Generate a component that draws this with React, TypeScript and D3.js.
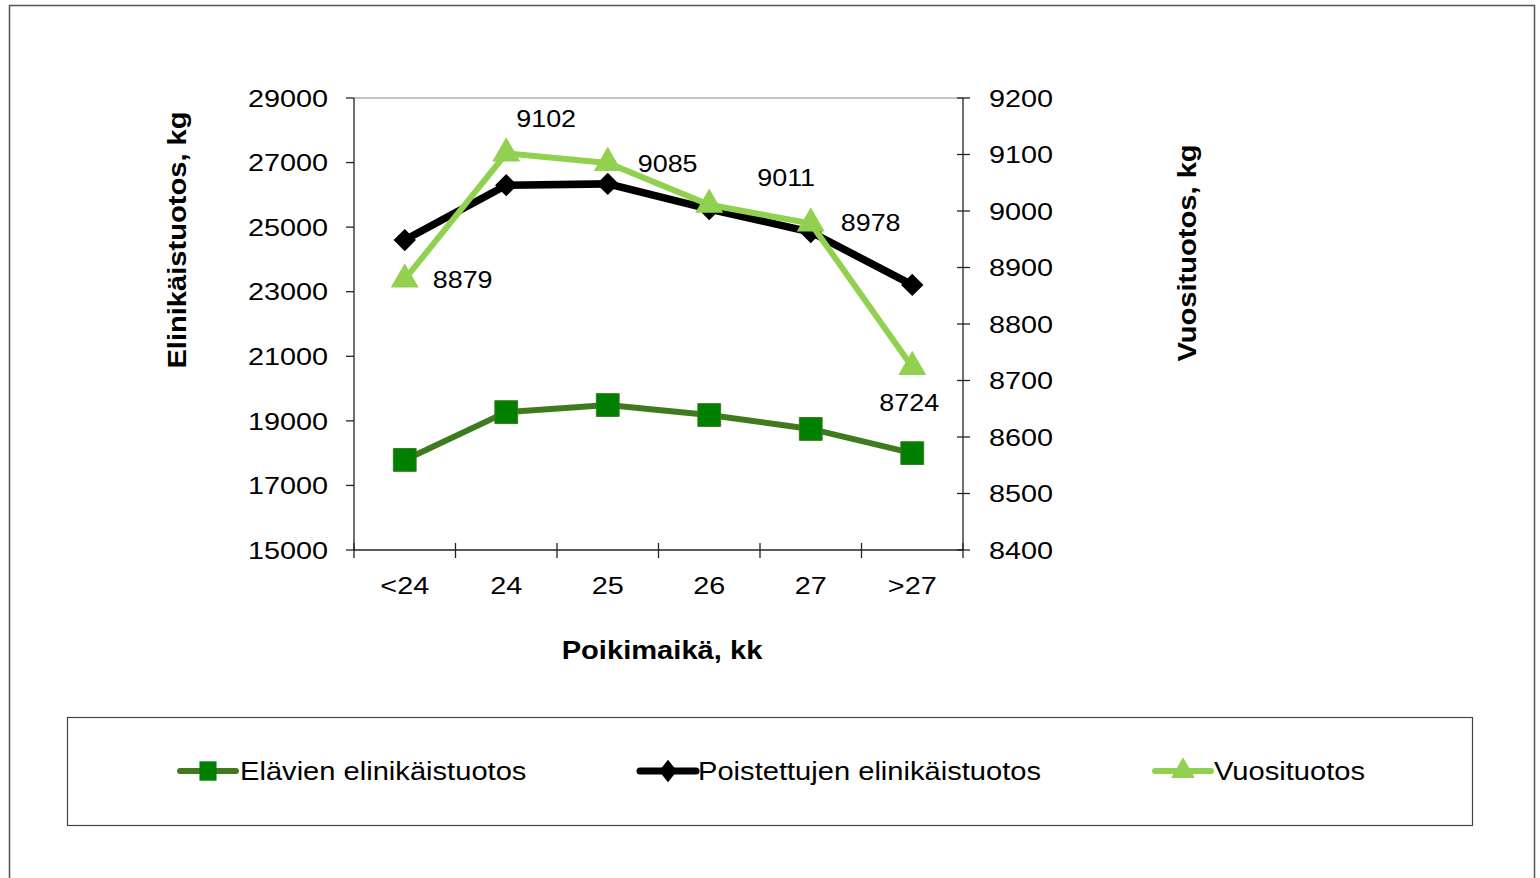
import * as d3 from 'd3';

// chart data
const categories = ['<24', '24', '25', '26', '27', '>27'];
const elavien = [17790, 19270, 19490, 19180, 18750, 18000];
const poistettujen = [24600, 26300, 26340, 25560, 24850, 23210];
const vuosituotos = [8879, 9102, 9085, 9011, 8978, 8724];
const leftTicks = [15000, 17000, 19000, 21000, 23000, 25000, 27000, 29000];
const rightTicks = [8400, 8500, 8600, 8700, 8800, 8900, 9000, 9100, 9200];

const FONT = '"Liberation Sans", Arial, sans-serif';

// text stretched horizontally like the original export
function T({ x, y, sx = 1.12, rot = 0, anchor = 'start', size = 24, bold = false, children }:
    { x: number; y: number; sx?: number; rot?: number; anchor?: string; size?: number; bold?: boolean; children: any }) {
    return (
        <text transform={`translate(${x},${y}) rotate(${rot}) scale(${sx},1)`} dy="0.36em" textAnchor={anchor}
            fontSize={size} fontWeight={bold ? 'bold' : 'normal'}>{children}</text>
    );
}

export default function App() {
    const width = 1540;
    const height = 878;
    const plot = { left: 354, right: 963, top: 98, bottom: 550 };

    const x = d3.scaleBand().domain(categories).range([plot.left, plot.right]);
    const cx = (c: string) => (x(c) ?? 0) + x.bandwidth() / 2;
    const yL = d3.scaleLinear().domain([15000, 29000]).range([plot.bottom, plot.top]);
    const yR = d3.scaleLinear().domain([8400, 9200]).range([plot.bottom, plot.top]);

    const lineL = d3.line<number>().x((_, i) => cx(categories[i])).y((d) => yL(d));
    const lineR = d3.line<number>().x((_, i) => cx(categories[i])).y((d) => yR(d));

    const square = d3.symbol(d3.symbolSquare, 520)();
    const diamond = d3.symbol(d3.symbolSquare, 250)();
    const triangle = d3.symbol(d3.symbolTriangle, 340)();

    // label offsets for the Vuosituotos values (dx, dy from the point)
    const labelPos = [
        [28, 0, 'start'], [10, -35, 'start'], [30, 0, 'start'],
        [48, -27, 'start'], [30, -1, 'start'], [-3, 35, 'middle'],
    ] as [number, number, string][];

    const axisColor = '#222';

    return (
        <svg width={width} height={height} style={{ display: 'block', position: 'absolute', left: 0, top: 0 }}
            fontFamily={FONT}>
            <rect x={0} y={0} width={width} height={height} fill="#fff" />
            {/* outer frame */}
            <rect x={9.5} y={5.5} width={1525} height={900} fill="none" stroke="#555" strokeWidth={1.5} />

            {/* axes */}
            <line x1={plot.left} x2={plot.right} y1={plot.top} y2={plot.top} stroke="#888" strokeWidth={1} />
            <line x1={plot.left} x2={plot.left} y1={plot.top} y2={plot.bottom} stroke={axisColor} strokeWidth={1.3} />
            <line x1={plot.right} x2={plot.right} y1={plot.top} y2={plot.bottom} stroke={axisColor} strokeWidth={1.3} />
            <line x1={plot.left} x2={plot.right} y1={plot.bottom} y2={plot.bottom} stroke={axisColor} strokeWidth={1.3} />

            {leftTicks.map((t) => (
                <g key={'l' + t}>
                    <line x1={plot.left - 8} x2={plot.left} y1={yL(t)} y2={yL(t)} stroke={axisColor} strokeWidth={1.3} />
                    <T x={328} y={yL(t)} sx={1.2} anchor="end">{t}</T>
                </g>
            ))}
            {rightTicks.map((t) => (
                <g key={'r' + t}>
                    <line x1={plot.right - 6} x2={plot.right + 7} y1={yR(t)} y2={yR(t)} stroke={axisColor} strokeWidth={1.3} />
                    <T x={989} y={yR(t)} sx={1.2}>{t}</T>
                </g>
            ))}
            {d3.range(categories.length + 1).map((i) => {
                const xx = plot.left + i * x.bandwidth();
                return <line key={'b' + i} x1={xx} x2={xx} y1={plot.bottom - 7} y2={plot.bottom + 8} stroke={axisColor} strokeWidth={1.3} />;
            })}
            {categories.map((c) => (
                <T key={'c' + c} x={cx(c)} y={585} sx={1.2} anchor="middle">{c}</T>
            ))}

            {/* axis titles */}
            <T x={662} y={650} anchor="middle" size={26} bold>Poikimaikä, kk</T>
            <T x={177} y={240} rot={-90} anchor="middle" size={26} bold>Elinikäistuotos, kg</T>
            <T x={1187} y={253} rot={-90} anchor="middle" size={26} bold>Vuosituotos, kg</T>

            {/* Elävien */}
            <path d={lineL(elavien) ?? ''} fill="none" stroke="#3f7a1e" strokeWidth={6} />
            {elavien.map((v, i) => (
                <path key={'e' + i} d={square} transform={`translate(${cx(categories[i])},${yL(v)})`} fill="#008000" stroke="#3f7a1e" strokeWidth={1} />
            ))}

            {/* Poistettujen */}
            <path d={lineL(poistettujen) ?? ''} fill="none" stroke="#000" strokeWidth={7.5} />
            {poistettujen.map((v, i) => (
                <path key={'p' + i} d={diamond} transform={`translate(${cx(categories[i])},${yL(v)}) rotate(45)`} fill="#000" />
            ))}

            {/* Vuosituotos */}
            <path d={lineR(vuosituotos) ?? ''} fill="none" stroke="#92d050" strokeWidth={6} />
            {vuosituotos.map((v, i) => (
                <path key={'v' + i} d={triangle} transform={`translate(${cx(categories[i])},${yR(v)})`} fill="#92d050" />
            ))}
            {vuosituotos.map((v, i) => (
                <T key={'vl' + i} x={cx(categories[i]) + labelPos[i][0]} y={yR(v) + labelPos[i][1]} anchor={labelPos[i][2]}>{v}</T>
            ))}

            {/* legend */}
            <rect x={67.5} y={717.5} width={1405} height={108} fill="#fff" stroke="#444" strokeWidth={1.2} />
            <g transform="translate(180,771)">
                <line x1={0} x2={56} y1={0} y2={0} stroke="#3f7a1e" strokeWidth={6} strokeLinecap="round" />
                <path d={square} transform="translate(28,0) scale(0.75,0.85)" fill="#008000" />
                <T x={60} y={0} size={26}>Elävien elinikäistuotos</T>
            </g>
            <g transform="translate(640,771)">
                <line x1={0} x2={56} y1={0} y2={0} stroke="#000" strokeWidth={7} strokeLinecap="round" />
                <path d={diamond} transform="translate(28,0) scale(0.8,1) rotate(45)" fill="#000" />
                <T x={58} y={0} size={26}>Poistettujen elinikäistuotos</T>
            </g>
            <g transform="translate(1155,771)">
                <line x1={0} x2={56} y1={0} y2={0} stroke="#92d050" strokeWidth={6} strokeLinecap="round" />
                <path d={triangle} transform="translate(28,0) scale(0.85)" fill="#92d050" />
                <T x={59} y={0} size={26}>Vuosituotos</T>
            </g>
        </svg>
    );
}
